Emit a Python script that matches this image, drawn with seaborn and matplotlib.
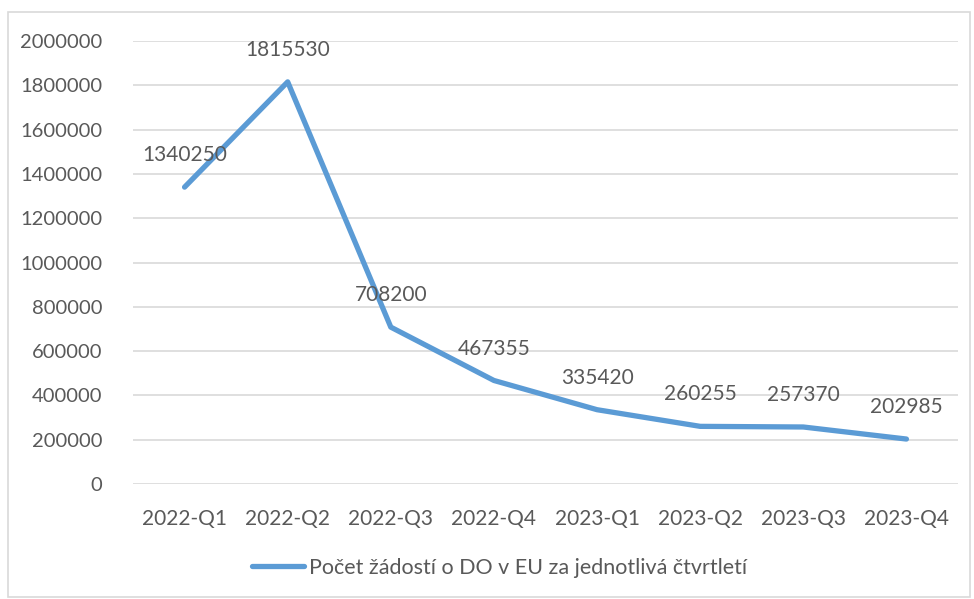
import pandas as pd
import seaborn as sns
import matplotlib.pyplot as plt
from matplotlib.patches import Rectangle

# data
quarters = ['2022-Q1', '2022-Q2', '2022-Q3', '2022-Q4',
            '2023-Q1', '2023-Q2', '2023-Q3', '2023-Q4']
requests = [1340250, 1815530, 708200, 467355, 335420, 260255, 257370, 202985]
series_name = 'Počet žádostí o DO v EU za jednotlivá čtvrtletí'

df = pd.DataFrame({'quarter': quarters, 'requests': requests})

sns.set_theme(style='white')
plt.rcParams['font.family'] = ['Lato', 'DejaVu Sans']
text_color = '#595959'
line_color = '#5B9BD5'

fig = plt.figure(figsize=(9.74, 5.99), dpi=100)
ax = fig.add_axes([133 / 974, 1 - 484 / 599, (958 - 133) / 974, (484 - 41) / 599])

sns.lineplot(data=df, x='quarter', y='requests', sort=False, color=line_color,
             linewidth=3.8, ax=ax, label=series_name, solid_capstyle='round')

# data labels above each point
for i, v in enumerate(df['requests']):
    ax.annotate(str(v), (i, v), xytext=(0, 23), textcoords='offset points',
                ha='center', va='center', fontsize=15, color=text_color)

ax.set_ylim(0, 2000000)
ax.set_xlim(-0.5, len(quarters) - 0.5)
ax.set_yticks(range(0, 2000001, 200000))
ax.yaxis.set_major_formatter(plt.FuncFormatter(lambda v, p: f'{int(v)}'))
ax.grid(axis='y', color='#D9D9D9', linewidth=1.2)
ax.set_axisbelow(True)
for s in ax.spines.values():
    s.set_visible(False)
ax.tick_params(axis='y', length=0, pad=22, labelsize=14.5, labelcolor=text_color)
ax.tick_params(axis='x', length=0, pad=18, labelsize=15, labelcolor=text_color)
ax.set_xlabel('')
ax.set_ylabel('')

leg = ax.legend(loc='center', bbox_to_anchor=(500 / 974, 1 - 568 / 599),
                bbox_transform=fig.transFigure, frameon=False, fontsize=15.5,
                handlelength=2.4, handletextpad=0.25)
for t in leg.get_texts():
    t.set_color(text_color)

# chart area border
fig.patches.append(Rectangle((8 / 974, 2 / 599), 962 / 974, 585 / 599,
                             transform=fig.transFigure, fill=False,
                             edgecolor='#D9D9D9', linewidth=1.2))

fig.savefig('out.png', dpi=100)
